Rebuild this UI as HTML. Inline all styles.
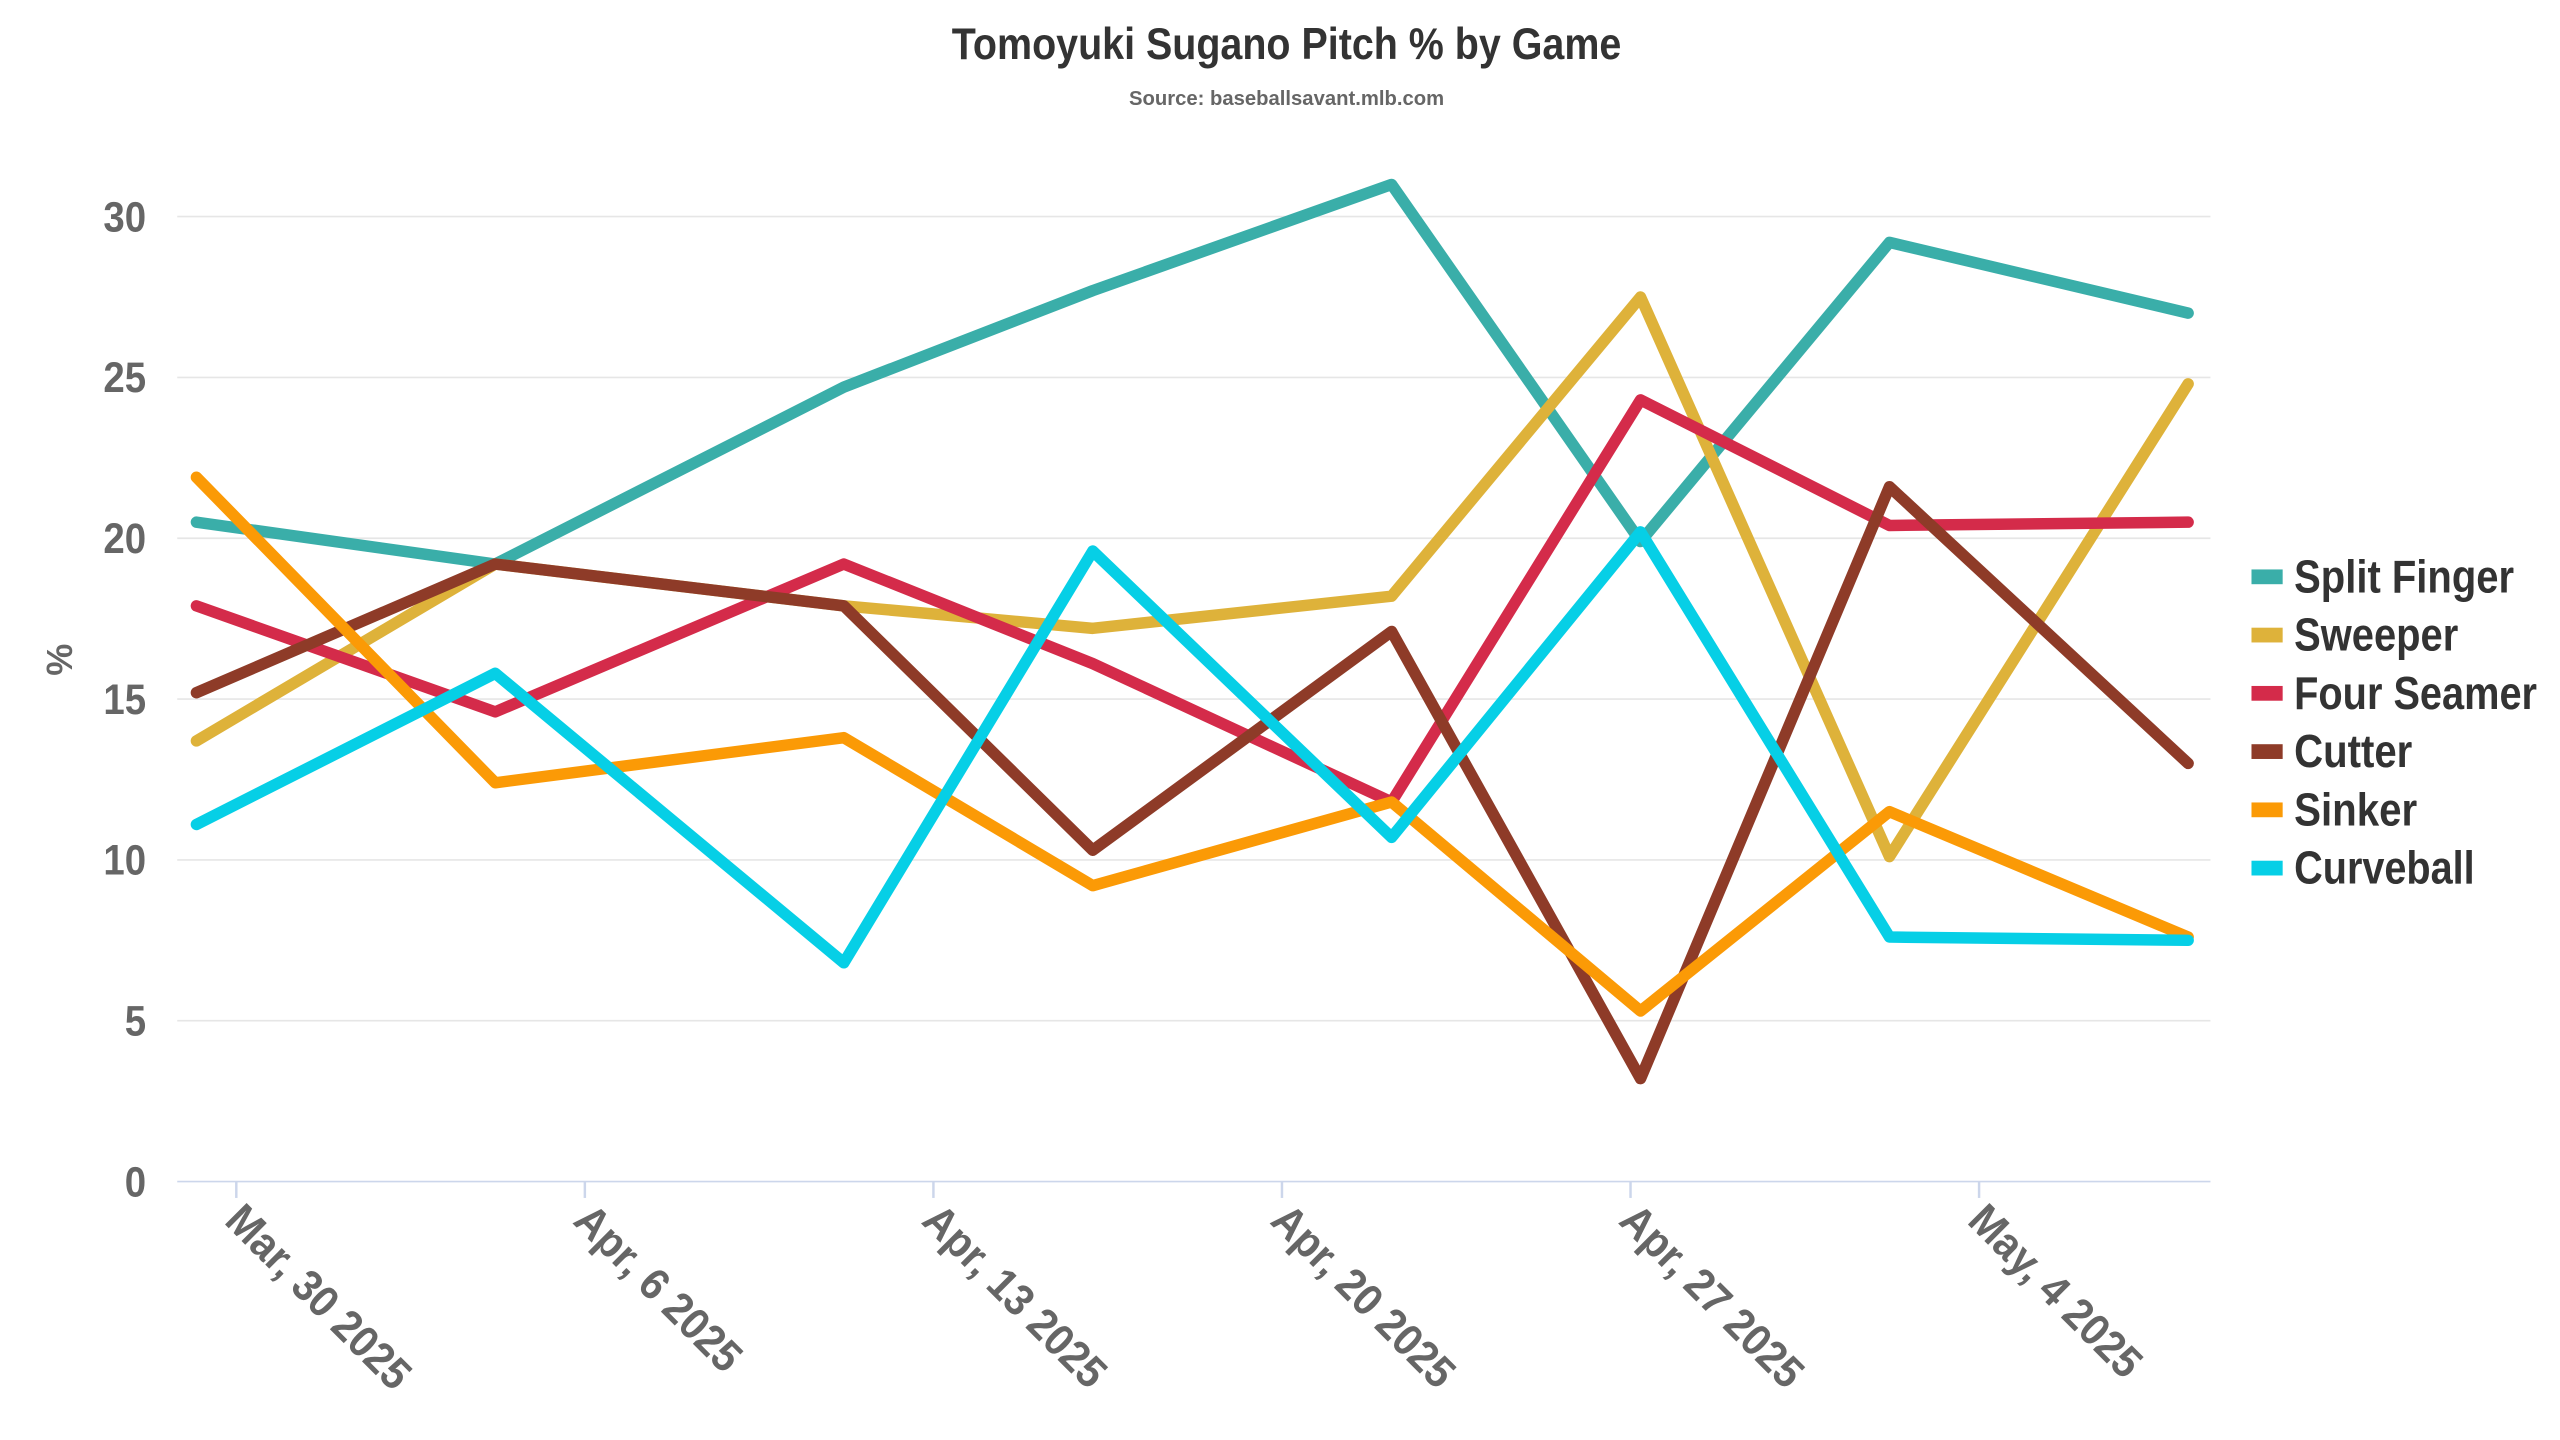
<!DOCTYPE html>
<html><head><meta charset="utf-8"><style>
html,body{margin:0;padding:0;background:#fff;}
svg{display:block;font-family:"Liberation Sans Narrow","Liberation Sans",sans-serif;}
</style></head><body>
<svg id="chart" width="2560" height="1440" viewBox="0 0 1560 877.5" xmlns="http://www.w3.org/2000/svg">
<text x="580" y="36" textLength="408" lengthAdjust="spacingAndGlyphs" font-size="27" font-weight="bold" fill="#333">Tomoyuki Sugano Pitch % by Game</text>
<text x="688" y="64" textLength="192" lengthAdjust="spacingAndGlyphs" font-size="12.5" font-weight="bold" fill="#666">Source: baseballsavant.mlb.com</text>
<text transform="translate(44,402) rotate(-90)" text-anchor="middle" font-size="22" font-weight="bold" fill="#666">%</text>
<g id="grid"></g><g id="xaxis"></g><g id="lines"></g><g id="legend"></g>
</svg>
<script>
const series = ["Split Finger","Sweeper","Four Seamer","Cutter","Sinker","Curveball"];
const colors = ["#3aaea9","#deb23a","#d42b4a","#8e3b28","#fb9a06","#06cfe6"];
const gameDays = [-0.8,5.2,12.2,17.2,23.2,28.2,33.2,39.2];
const splitFinger = [20.5,19.2,24.7,27.7,31.0,19.9,29.2,27.0];
const sweeper = [13.7,19.2,17.9,17.2,18.2,27.5,10.1,24.8];
const fourSeamer = [17.9,14.6,19.2,16.1,11.8,24.3,20.4,20.5];
const cutter = [15.2,19.2,17.9,10.3,17.1,3.2,21.6,13.0];
const sinker = [21.9,12.4,13.8,9.2,11.8,5.3,11.5,7.6];
const curveball = [11.1,15.8,6.8,19.6,10.7,20.2,7.6,7.5];
const yTicks = [0,5,10,15,20,25,30];
const xTickLabels = ["Mar, 30 2025","Apr, 6 2025","Apr, 13 2025","Apr, 20 2025","Apr, 27 2025","May, 4 2025"];
const xTickDays = [0,7,14,21,28,35];
const legendWidths = [134,100,148,72,75,110];

const NS="http://www.w3.org/2000/svg";
const X0=108,X1=1347;
function xs(d){return 144+d*(212.4/7);}
function ys(v){return 720-v*19.6;}
function mk(t,a,p){const e=document.createElementNS(NS,t);for(const k in a)e.setAttribute(k,a[k]);p.appendChild(e);return e;}
const grid=document.getElementById('grid');
yTicks.forEach(v=>{
  const l=mk('line',{x1:X0,x2:X1,y1:ys(v),y2:ys(v),stroke:v===0?'#ccd6eb':'#e6e6e6','stroke-width':1},grid);
  
  
  const t=mk('text',{x:0,y:0,transform:`translate(89,${ys(v)+9}) scale(0.9,1)`,'text-anchor':'end','font-size':26,'font-weight':'bold',fill:'#666'},grid);
  t.textContent=v;
  
  
});
const xa=document.getElementById('xaxis');
xTickDays.forEach((d,i)=>{
  const x=xs(d);
  const tk=mk('line',{x1:x,x2:x,y1:720,y2:730,stroke:'#ccd6eb','stroke-width':1.5},xa);
  
  
  const t=mk('text',{x:0,y:0,transform:`translate(${x-8},${745}) rotate(45) scale(0.92,1)`,'font-size':27,'font-weight':'bold',fill:'#666'},xa);
  t.textContent=xTickLabels[i];
  
  
});
const data=[splitFinger,sweeper,fourSeamer,cutter,sinker,curveball];
const lg=document.getElementById('lines');
data.forEach((vals,i)=>{
  const pts=vals.map((v,j)=>xs(gameDays[j]).toFixed(1)+','+ys(v).toFixed(1)).join(' ');
  const p=mk('polyline',{points:pts,fill:'none',stroke:colors[i],'stroke-width':7,'stroke-linecap':'round','stroke-linejoin':'round'},lg);
  
  
});
const leg=document.getElementById('legend');
series.forEach((s,i)=>{
  const y=351+i*35.5;
  const g=mk('g',{},leg);
  
  
  mk('rect',{x:1372,y:y-4,width:19,height:9,fill:colors[i]},g);
  const t=mk('text',{x:1398,y:y+10,textLength:legendWidths[i],lengthAdjust:'spacingAndGlyphs','font-size':28,'font-weight':'bold',fill:'#333'},g);
  t.textContent=s;
});
</script>
</body></html>
